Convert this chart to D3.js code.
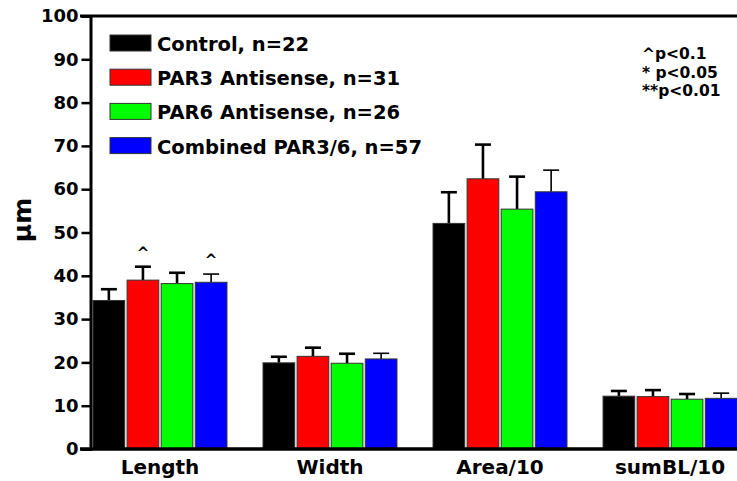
<!DOCTYPE html>
<html>
<head>
    <meta charset="utf-8" />
    <title>PAR knockdown measurements</title>
    <script src="https://cdn.jsdelivr.net/npm/d3@7"></script>
    <style>
        body { margin: 0; background: #fff; }
        text { font-family: "DejaVu Sans", sans-serif; font-weight: bold; fill: #000; }
    </style>
</head>
<body>
    <div id="chart"></div>
    <script>
        // data
        var categories = ["Length", "Width", "Area/10", "sumBL/10"];
        var seriesNames = ["Control, n=22", "PAR3 Antisense, n=31", "PAR6 Antisense, n=26", "Combined PAR3/6, n=57"];
        var seriesColors = ["#000000", "#ff0000", "#00ff00", "#0000ff"];

        var controlMean  = [34.3, 19.9, 52.1, 12.2];
        var par3Mean     = [39.0, 21.4, 62.4, 12.1];
        var par6Mean     = [38.2, 19.8, 55.4, 11.5];
        var combinedMean = [38.5, 20.8, 59.4, 11.7];

        var controlErr  = [2.6, 1.4, 7.2, 1.2];
        var par3Err     = [3.1, 2.0, 7.9, 1.5];
        var par6Err     = [2.5, 2.2, 7.5, 1.2];
        var combinedErr = [1.9, 1.3, 5.0, 1.2];

        // "^" marks (p<0.1): [category, series index]
        var marks = [["Length", 1], ["Length", 3]];
        var sigNotes = ["^p<0.1", "* p<0.05", "**p<0.01"];
        var yTicks = [0, 10, 20, 30, 40, 50, 60, 70, 80, 90, 100];

        var means = [controlMean, par3Mean, par6Mean, combinedMean];
        var errs = [controlErr, par3Err, par6Err, combinedErr];

        var width = 737, height = 481;
        var axisX = 90.5, plotTop = 16, plotBottom = 449;

        var svg = d3.select("#chart").append("svg")
            .attr("width", width)
            .attr("height", height);

        var y = d3.scaleLinear().domain([0, 100]).range([plotBottom, plotTop]);

        var x0 = d3.scaleBand().domain(categories)
            .range([93, 737])
            .paddingInner(0.212)
            .paddingOuter(0);

        var x1 = d3.scaleBand().domain(d3.range(seriesNames.length))
            .range([0, x0.bandwidth()])
            .paddingInner(0.07)
            .paddingOuter(0);

        var rows = [];
        categories.forEach(function (c, ci) {
            seriesNames.forEach(function (s, si) {
                rows.push({ cat: c, s: si, v: means[si][ci], e: errs[si][ci] });
            });
        });

        // error bars (drawn first, bars sit on top of the lower half)
        var eb = svg.append("g").selectAll("g")
            .data(rows).enter().append("g")
            .attr("stroke", "#000")
            .attr("stroke-width", function (d) { return d.s === 3 ? 1.6 : 2.6; });

        eb.append("line")
            .attr("x1", function (d) { return x0(d.cat) + x1(d.s) + x1.bandwidth() / 2; })
            .attr("x2", function (d) { return x0(d.cat) + x1(d.s) + x1.bandwidth() / 2; })
            .attr("y1", function (d) { return y(d.v); })
            .attr("y2", function (d) { return y(d.v + d.e); });

        eb.append("line")
            .attr("x1", function (d) { return x0(d.cat) + x1(d.s) + x1.bandwidth() / 2 - 8; })
            .attr("x2", function (d) { return x0(d.cat) + x1(d.s) + x1.bandwidth() / 2 + 8; })
            .attr("y1", function (d) { return y(d.v + d.e); })
            .attr("y2", function (d) { return y(d.v + d.e); });

        svg.append("g").selectAll("rect")
            .data(rows).enter().append("rect")
            .attr("x", function (d) { return x0(d.cat) + x1(d.s); })
            .attr("y", function (d) { return y(d.v); })
            .attr("width", x1.bandwidth())
            .attr("height", function (d) { return plotBottom - y(d.v); })
            .attr("fill", function (d) { return seriesColors[d.s]; })
            .attr("stroke", "#333")
            .attr("stroke-width", 1);

        // significance carets
        svg.append("g").selectAll("text")
            .data(marks).enter().append("text")
            .attr("x", function (d) { return x0(d[0]) + x1(d[1]) + x1.bandwidth() / 2; })
            .attr("y", function (d) {
                var ci = categories.indexOf(d[0]);
                return y(means[d[1]][ci] + errs[d[1]][ci]) - 9;
            })
            .attr("text-anchor", "middle")
            .style("font-size", "15px")
            .text("^");

        // y axis
        var yAxis = svg.append("g")
            .attr("transform", "translate(" + axisX + ",0)")
            .call(d3.axisLeft(y).tickValues(yTicks).tickSize(9).tickPadding(3));
        yAxis.select(".domain").attr("stroke-width", 3);
        yAxis.selectAll(".tick line").attr("stroke-width", 2.5);
        yAxis.selectAll(".tick text")
            .style("font-size", "18px")
            .style("font-family", "DejaVu Sans")
            .style("font-weight", "bold");

        // top frame line and x axis baseline
        svg.append("line")
            .attr("x1", 80).attr("x2", width)
            .attr("y1", plotTop).attr("y2", plotTop)
            .attr("stroke", "#000").attr("stroke-width", 3);
        svg.append("line")
            .attr("x1", 80).attr("x2", width)
            .attr("y1", plotBottom).attr("y2", plotBottom)
            .attr("stroke", "#000").attr("stroke-width", 3.5);

        // x labels
        svg.append("g").selectAll("text")
            .data(categories).enter().append("text")
            .attr("x", function (d) { return x0(d) + x0.bandwidth() / 2; })
            .attr("y", 474)
            .attr("text-anchor", "middle")
            .style("font-size", "20px")
            .text(function (d) { return d; });

        // y title
        svg.append("text")
            .attr("transform", "translate(31,220) rotate(-90)")
            .attr("text-anchor", "middle")
            .style("font-size", "25px")
            .text("\u03bcm");

        // legend
        var legend = svg.append("g").selectAll("g")
            .data(seriesNames).enter().append("g")
            .attr("transform", function (d, i) { return "translate(110," + (35 + i * 34.2) + ")"; });
        legend.append("rect")
            .attr("width", 41).attr("height", 16)
            .attr("fill", function (d, i) { return seriesColors[i]; })
            .attr("stroke", "#333").attr("stroke-width", 1);
        legend.append("text")
            .attr("x", 47).attr("y", 16)
            .style("font-size", "19.5px")
            .text(function (d) { return d; });

        // p-value key
        svg.append("g").selectAll("text")
            .data(sigNotes).enter().append("text")
            .attr("x", 642)
            .attr("y", function (d, i) { return 59 + i * 18.5; })
            .style("font-size", "15.5px")
            .text(function (d) { return d; });
    </script>
</body>
</html>
